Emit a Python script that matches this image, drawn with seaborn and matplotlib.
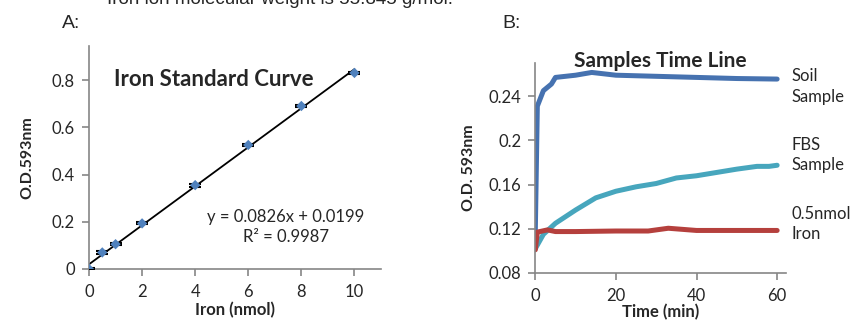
import numpy as np
import pandas as pd
import matplotlib
matplotlib.use("Agg")
import matplotlib.pyplot as plt
import seaborn as sns

# panel A: iron standard curve
iron_nmol = [0, 0.5, 1, 2, 4, 6, 8, 10]
od_standard = [0.0, 0.07, 0.105, 0.193, 0.355, 0.525, 0.69, 0.83]
od_err = [0.004, 0.005, 0.005, 0.004, 0.006, 0.005, 0.004, 0.005]
slope = 0.0826
intercept = 0.0199
r2 = 0.9987

# panel B: samples time line
soil_t = [0, 0.5, 2, 4, 5, 10, 14, 20, 30, 40, 50, 60]
soil_od = [0.118, 0.231, 0.245, 0.251, 0.257, 0.259, 0.2615, 0.259, 0.258, 0.257, 0.256, 0.2555]
fbs_t = [0, 2, 5, 10, 15, 20, 25, 30, 35, 40, 45, 50, 55, 58, 60]
fbs_od = [0.102, 0.115, 0.125, 0.137, 0.148, 0.154, 0.158, 0.161, 0.166, 0.168, 0.171, 0.174, 0.1765, 0.1765, 0.1775]
iron_t = [0, 0.5, 3, 5, 10, 20, 28, 33, 40, 50, 60]
iron_od = [0.101, 0.117, 0.119, 0.1175, 0.1175, 0.118, 0.118, 0.1205, 0.1185, 0.1185, 0.1185]
series_names = ["Soil\nSample", "FBS\nSample", "0.5nmol\nIron"]
series_colors = ["#4672B0", "#47A6BD", "#B5403D"]
label_y = [0.249, 0.1867, 0.1243]

sns.set_style("white")
plt.rcParams['font.family'] = ['Lato', 'DejaVu Sans']

fig = plt.figure(figsize=(8.55, 3.23), dpi=100)
axA = fig.add_axes([0.1041, 0.1672, 0.3415, 0.6904])
axB = fig.add_axes([0.6261, 0.1548, 0.2932, 0.650])

grey = "#868686"
for ax in (axA, axB):
    sns.despine(ax=ax)
    for s in ("left", "bottom"):
        ax.spines[s].set_color(grey)
        ax.spines[s].set_linewidth(1.2)
    ax.tick_params(direction="out", length=5, width=1.2, color=grey,
                   labelsize=12, left=True, bottom=True)
    ax.tick_params(axis="x", pad=6)
    ax.tick_params(axis="y", pad=5)

# ---- A ----
xs = np.array([0, 10])
axA.plot(xs, slope * xs + intercept, color="black", lw=1.3, zorder=2)
axA.errorbar(iron_nmol, od_standard, yerr=od_err, fmt="none", ecolor="black",
             elinewidth=1, capsize=4, capthick=1.5, zorder=3)
sns.scatterplot(x=iron_nmol, y=od_standard, ax=axA, marker="D", s=28,
                color="#4F81BD", edgecolor="none", zorder=4)
axA.set_xlim(0, 11)
axA.set_ylim(0, 0.944)
axA.set_xticks([0, 2, 4, 6, 8, 10])
axA.set_yticks([0, 0.2, 0.4, 0.6, 0.8])
axA.set_yticklabels(["0", "0.2", "0.4", "0.6", "0.8"])
axA.set_xlabel("Iron (nmol)", fontsize=12, fontweight="bold", labelpad=1)
axA.set_ylabel("O.D.593nm", fontsize=11.5, fontweight="bold", labelpad=13)
axA.text(0.428, 0.848, "Iron Standard Curve", transform=axA.transAxes,
         ha="center", va="center", fontsize=16, fontweight="bold")
axA.text(0.673, 0.19, f"y = {slope}x + {intercept}\nR² = {r2}", transform=axA.transAxes,
         ha="center", va="center", fontsize=12, linespacing=1.3)

# ---- B ----
frames = []
for name, t, od in zip(series_names, [soil_t, fbs_t, iron_t], [soil_od, fbs_od, iron_od]):
    frames.append(pd.DataFrame({"time": t, "od": od, "sample": name}))
df = pd.concat(frames, ignore_index=True)
sns.lineplot(data=df, x="time", y="od", hue="sample", palette=series_colors,
             linewidth=3.6, ax=axB, legend=False, sort=False)
axB.set_xlim(0, 62.2)
axB.set_ylim(0.08, 0.27)
axB.set_xticks([0, 20, 40, 60])
axB.set_yticks([0.08, 0.12, 0.16, 0.2, 0.24])
axB.set_yticklabels(["0.08", "0.12", "0.16", "0.2", "0.24"])
axB.set_xlabel("Time (min)", fontsize=12, fontweight="bold", labelpad=0)
axB.set_ylabel("O.D. 593nm", fontsize=11.5, fontweight="bold", labelpad=9)
axB.text(0.5, 1.01, "Samples Time Line", transform=axB.transAxes,
         ha="center", va="center", fontsize=15, fontweight="bold")
for name, ypos in zip(series_names, label_y):
    axB.text(1.02, ypos, name, transform=axB.get_yaxis_transform(),
             ha="left", va="center", fontsize=12, linespacing=1.35)

# figure texts
fig.text(107 / 855, 1 - 4 / 323, "Iron ion molecular weight is 55.845 g/mol.",
         fontsize=13.5, family="Liberation Sans", va="baseline")
fig.text(62 / 855, 1 - 28 / 323, "A:", fontsize=14, family="Liberation Sans", va="baseline")
fig.text(502 / 855, 1 - 28 / 323, "B:", fontsize=14, family="Liberation Sans", va="baseline")

fig.savefig("out.png", dpi=100)
